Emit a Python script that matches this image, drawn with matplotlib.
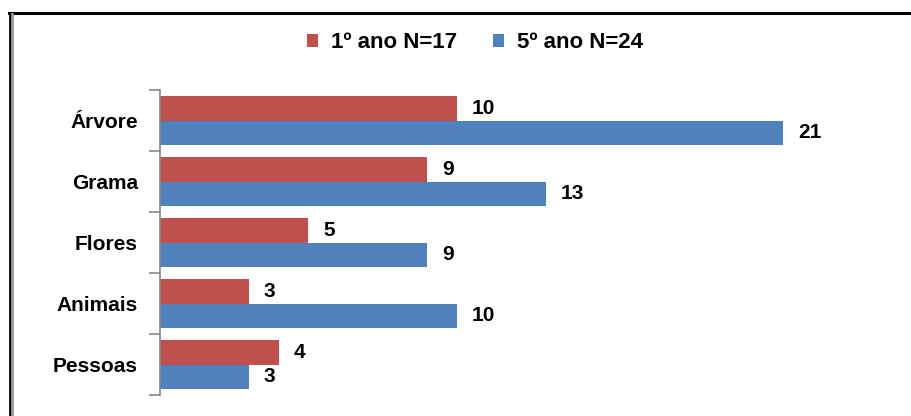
import numpy as np
import matplotlib
matplotlib.use('Agg')
import matplotlib.pyplot as plt
from matplotlib.lines import Line2D

plt.rcParams['font.family'] = ['Liberation Sans', 'DejaVu Sans']

categories = ['Árvore', 'Grama', 'Flores', 'Animais', 'Pessoas']
ano1 = [10, 9, 5, 3, 4]
ano5 = [21, 13, 9, 10, 3]
series_names = ['1º ano N=17', '5º ano N=24']
colors = ['#C0504D', '#4F81BD']

fig = plt.figure(figsize=(9.12, 4.16), dpi=100)
ax = fig.add_axes([160/912, 1 - 395/416, (872-160)/912, (395-90)/416])

y = np.arange(len(categories))
h = 0.405
b1 = ax.barh(y - h/2, ano1, height=h, color=colors[0], label=series_names[0])
b2 = ax.barh(y + h/2, ano5, height=h, color=colors[1], label=series_names[1])

for bars, vals in [(b1, ano1), (b2, ano5)]:
    for bar, v in zip(bars, vals):
        ax.text(bar.get_width() + 0.5, bar.get_y() + bar.get_height()/2, str(v),
                va='center', ha='left', fontsize=15, fontweight='bold')

ax.set_xlim(0, 24)
ax.set_ylim(len(categories) - 0.5, -0.5)
ax.set_yticks(y)
ax.set_yticklabels(categories, fontsize=15, fontweight='bold')
ax.tick_params(axis='y', which='major', length=0, pad=16)
ax.set_yticks(np.arange(-0.5, len(categories), 1), minor=True)
ax.tick_params(axis='y', which='minor', length=8, color='#888888', width=1.2)
ax.set_xticks([])
for s in ['top', 'right', 'bottom']:
    ax.spines[s].set_visible(False)
ax.spines['left'].set_color('#888888')
ax.spines['left'].set_linewidth(1.2)

fig.legend(handles=[b1, b2], labels=series_names, loc='center',
           bbox_to_anchor=(0.521, 1 - 43/416), ncol=2, frameon=False,
           prop={'size': 16, 'weight': 'bold'}, handlelength=0.5, handleheight=0.5,
           columnspacing=1.6, handletextpad=0.6)

# outer frame (top and left)
fig.add_artist(Line2D([9/912, 1], [1 - 13/416, 1 - 13/416], color='black', lw=2.2,
                      transform=fig.transFigure))
fig.add_artist(Line2D([10/912, 10/912], [0, 1 - 13/416], color='black', lw=2,
                      transform=fig.transFigure))
fig.add_artist(Line2D([12.5/912, 12.5/912], [0, 1 - 14/416], color='#999999', lw=2,
                      transform=fig.transFigure))

fig.savefig('out.png', dpi=100)
